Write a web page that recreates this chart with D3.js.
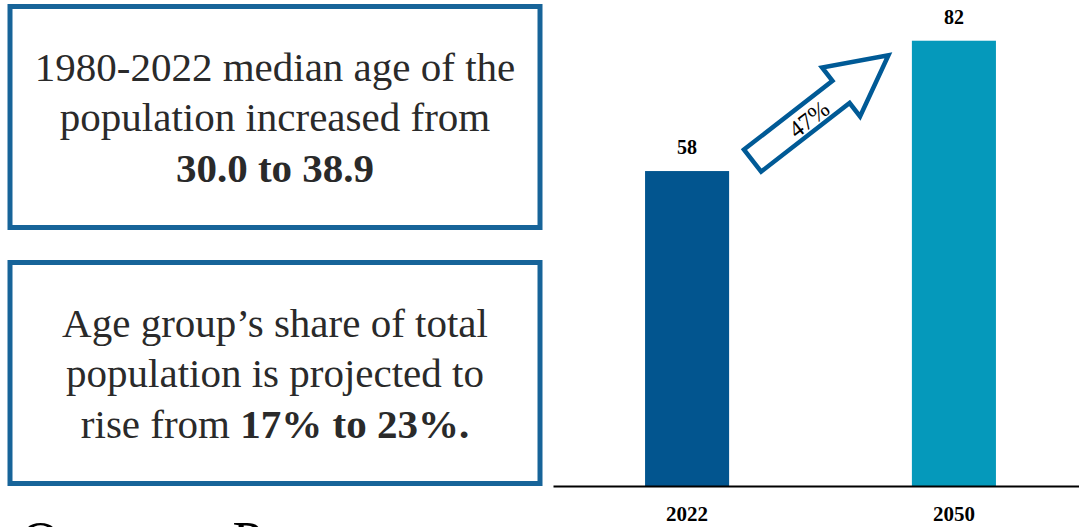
<!DOCTYPE html>
<html>
<head>
<meta charset="utf-8">
<script src="https://cdn.jsdelivr.net/npm/d3@7"></script>
<style>
  html, body { margin: 0; padding: 0; background: #fff; }
  svg { display: block; }
</style>
</head>
<body>
<svg id="chart" width="1079" height="527"></svg>
<script>
// Projected figures for the age group
const years = ["2022", "2050"];
const values = [58, 82];
const growthLabel = "47%";
const barColors = ["#02558f", "#0599bb"];

// Call-out boxes: each line is a list of [text, bold] runs
const box1Lines = [
  [["1980-2022 median age of the", false]],
  [["population increased from", false]],
  [["30.0 to 38.9", true]]
];
const box2Lines = [
  [["Age group\u2019s share of total", false]],
  [["population is projected to", false]],
  [["rise from ", false], ["17% to 23%.", true]]
];
const footerTitle = "Overseas Programs";

const svg = d3.select("#chart");
const serif = "'Liberation Serif', 'DejaVu Serif', serif";

// ---- text boxes ----
const boxes = [
  { x: 10, y: 6.5, w: 530, h: 221, lines: box1Lines },
  { x: 10, y: 262.5, w: 530, h: 221, lines: box2Lines }
];
const boxG = svg.selectAll("g.box").data(boxes).join("g").attr("class", "box");
boxG.append("rect")
  .attr("x", d => d.x).attr("y", d => d.y)
  .attr("width", d => d.w).attr("height", d => d.h)
  .attr("fill", "#fff")
  .attr("stroke", "#176499")
  .attr("stroke-width", 5);
boxG.each(function (d) {
  const g = d3.select(this);
  d.lines.forEach((runs, i) => {
    const t = g.append("text")
      .attr("x", d.x + d.w / 2)
      .attr("y", d.y + 74 + i * 50.5)
      .attr("text-anchor", "middle")
      .style("font-family", serif)
      .attr("font-size", 41)
      .attr("fill", "#2a2a2a");
    runs.forEach(([txt, bold]) => {
      t.append("tspan").text(txt).attr("font-weight", bold ? "bold" : "normal");
    });
  });
});

// ---- bar chart ----
const baseY = 486;
const x = d3.scaleBand()
  .domain(years)
  .range([553, 1088])
  .paddingInner(0.685)
  .paddingOuter(0.345);
const y = d3.scaleLinear().domain([0, 89.5]).range([baseY, 0]);

svg.append("g").selectAll("rect")
  .data(years)
  .join("rect")
  .attr("x", d => x(d))
  .attr("y", (d, i) => y(values[i]))
  .attr("width", x.bandwidth())
  .attr("height", (d, i) => baseY - y(values[i]))
  .attr("fill", (d, i) => barColors[i]);

// value labels
svg.append("g").selectAll("text")
  .data(years)
  .join("text")
  .attr("x", d => x(d) + x.bandwidth() / 2)
  .attr("y", (d, i) => y(values[i]) - 17)
  .attr("text-anchor", "middle")
  .style("font-family", serif)
  .attr("font-weight", "bold")
  .attr("font-size", 20)
  .attr("fill", "#000")
  .text((d, i) => values[i]);

// category axis
const axis = svg.append("g")
  .attr("transform", `translate(0,${baseY})`)
  .call(d3.axisBottom(x).tickSize(0).tickSizeOuter(0).tickPadding(20));
axis.select(".domain").attr("stroke", "#000").attr("stroke-width", 2);
axis.selectAll("text")
  .style("font-family", serif)
  .attr("font-weight", "bold")
  .attr("font-size", 21)
  .attr("fill", "#000");

// ---- growth arrow between the bars ----
const gapX = (x(years[0]) + x.bandwidth() + x(years[1])) / 2;
const gapY = (y(values[0]) + y(values[1])) / 2 + 2;
const half = 86, shaftW = 14, headW = 31, headL = 60;
const arrowPts = [
  [-half, -shaftW], [half - headL, -shaftW], [half - headL, -headW],
  [half, 0],
  [half - headL, headW], [half - headL, shaftW], [-half, shaftW]
];
const arrow = svg.append("g")
  .attr("transform", `translate(${gapX},${gapY}) rotate(-37.8)`);
arrow.append("path")
  .attr("d", d3.line()(arrowPts) + "Z")
  .attr("fill", "#fff")
  .attr("stroke", "#005a96")
  .attr("stroke-width", 4.5)
  .attr("stroke-linejoin", "miter");
arrow.append("text")
  .attr("x", -16)
  .attr("y", 2)
  .attr("text-anchor", "middle")
  .attr("dominant-baseline", "central")
  .style("font-family", serif)
  .attr("font-size", 24)
  .attr("fill", "#000")
  .text(growthLabel);

// ---- section title running off the bottom edge ----
svg.append("text")
  .attr("x", 21)
  .attr("y", 559)
  .style("font-family", serif)
  .attr("font-size", 54)
  .attr("fill", "#000")
  .text(footerTitle);
</script>
</body>
</html>
